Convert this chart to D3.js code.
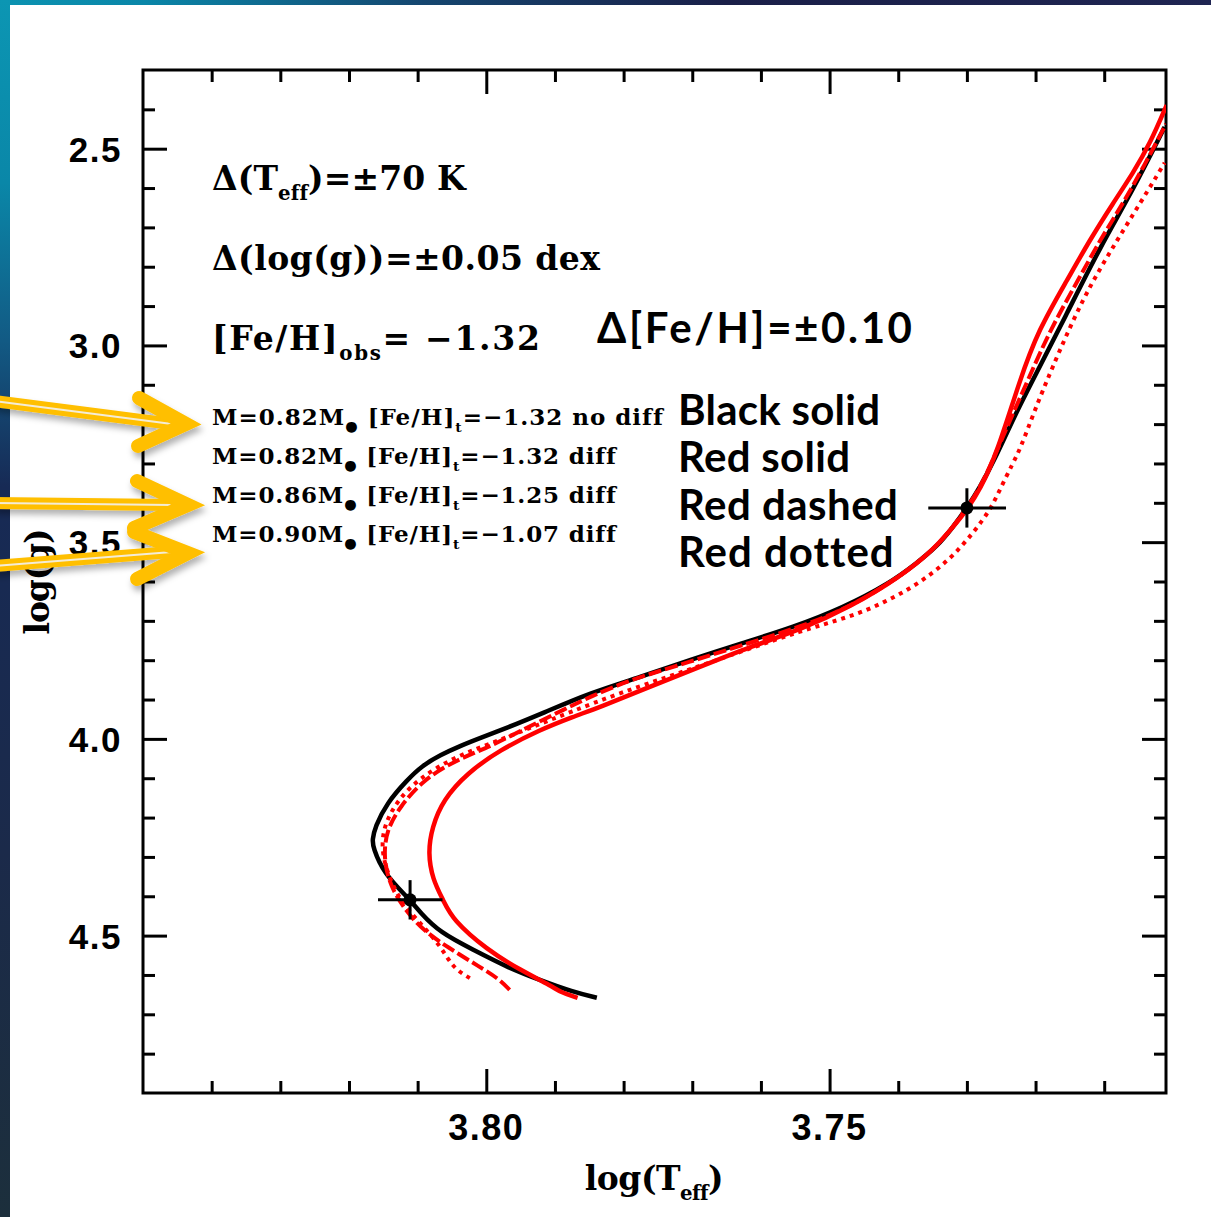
<!DOCTYPE html>
<html>
<head>
<meta charset="utf-8">
<script src="https://cdn.jsdelivr.net/npm/d3@7"></script>
<style>
  html, body { margin: 0; padding: 0; background: #fff; overflow: hidden; }
  svg { display: block; }
</style>
</head>
<body>
<svg id="fig"></svg>
<script>
// ---- Evolutionary tracks: [log(Teff), log(g)], from the ZAMS end upward ----
const blackSolid = [
  [3.7839,4.658],[3.7874,4.643],[3.7922,4.613],[3.7970,4.580],[3.8019,4.536],
  [3.8067,4.493],[3.8097,4.440],[3.8111,4.409],[3.8150,4.341],[3.8165,4.275],
  [3.8166,4.257],[3.8162,4.224],[3.8145,4.163],[3.8115,4.104],[3.8094,4.069],
  [3.8067,4.041],[3.8038,4.018],[3.8009,3.998],[3.7970,3.972],[3.7917,3.934],
  [3.7849,3.883],[3.7776,3.843],
  [3.7703,3.799],[3.7626,3.756],[3.7553,3.716],[3.7481,3.667],[3.7412,3.604],
  [3.7373,3.553],[3.7344,3.512],[3.7320,3.461],[3.7300,3.413],[3.7281,3.360],
  [3.7262,3.299],[3.7230,3.177],[3.7204,3.088],[3.7154,2.918],[3.7106,2.750],
  [3.7058,2.605],[3.7012,2.445]
];
const redSolid = [
  [3.7867,4.658],[3.7893,4.643],[3.7903,4.630],[3.7951,4.587],[3.7999,4.536],
  [3.8049,4.460],[3.8063,4.409],[3.8078,4.358],[3.8085,4.290],[3.8079,4.224],
  [3.8063,4.155],[3.8028,4.087],[3.7980,4.028],[3.7922,3.977],[3.7874,3.944],
  [3.7834,3.919],[3.7762,3.868],[3.7689,3.817],[3.7616,3.766],[3.7543,3.723],
  [3.7470,3.665],[3.7397,3.588],[3.7349,3.520],[3.7320,3.461],[3.7300,3.418],
  [3.7281,3.367],[3.7256,3.273],[3.7223,3.088],[3.7196,2.961],[3.7154,2.834],
  [3.7121,2.732],[3.7087,2.638],[3.7058,2.562],[3.7033,2.486],[3.7009,2.389]
];
const redDashed = [
  [3.7966,4.638],[3.7983,4.608],[3.8009,4.580],[3.8057,4.529],[3.8092,4.486],
  [3.8115,4.442],[3.8140,4.376],[3.8150,4.300],[3.8145,4.231],[3.8126,4.173],
  [3.8092,4.104],[3.8043,4.053],[3.7995,4.020],[3.7947,3.977],[3.7897,3.934],
  [3.7849,3.893],[3.7791,3.850],[3.7703,3.804],[3.7626,3.761],[3.7543,3.716],
  [3.7470,3.665],[3.7397,3.588],[3.7349,3.520],[3.7320,3.461],[3.7300,3.413],
  [3.7281,3.362],[3.7262,3.291],[3.7237,3.189],[3.7211,3.088],[3.7179,2.961],
  [3.7138,2.834],[3.7106,2.732],[3.7074,2.643],[3.7041,2.541],[3.7010,2.437]
];
const redDotted = [
  [3.8024,4.608],[3.8049,4.582],[3.8067,4.524],[3.8101,4.460],[3.8126,4.409],
  [3.8143,4.346],[3.8153,4.282],[3.8149,4.219],[3.8129,4.155],[3.8097,4.099],
  [3.8046,4.046],[3.7995,4.013],[3.7936,3.972],[3.7878,3.932],[3.7805,3.883],
  [3.7718,3.832],[3.7630,3.779],[3.7543,3.726],[3.7470,3.690],[3.7422,3.655],
  [3.7373,3.609],[3.7325,3.545],[3.7291,3.477],[3.7266,3.418],[3.7252,3.367],
  [3.7233,3.299],[3.7223,3.266],[3.7201,3.164],[3.7179,3.070],[3.7131,2.877],
  [3.7081,2.732],[3.7033,2.597],[3.7012,2.536]
];

// ---- Observed star positions and their uncertainties ----
const obsPoints = [[3.7300, 3.413], [3.8111, 4.409]];
const errTeffK = 70;      // K
const errLogg = 0.05;     // dex

// ---- Axes ----
const xMajorTicks = [3.80, 3.75];
const xMinorTicks = [3.84, 3.83, 3.82, 3.81, 3.79, 3.78, 3.77, 3.76, 3.74, 3.73, 3.72, 3.71];
const xTickLabels = ["3.80", "3.75"];
const yMajorTicks = [2.5, 3.0, 3.5, 4.0, 4.5];
const yMinorTicks = [2.4, 2.6, 2.7, 2.8, 2.9, 3.1, 3.2, 3.3, 3.4, 3.6, 3.7, 3.8, 3.9, 4.1, 4.2, 4.3, 4.4, 4.6, 4.7, 4.8];
const yTickLabels = ["2.5", "3.0", "3.5", "4.0", "4.5"];

// ---- Model descriptions ----
const modelMass = ["0.82", "0.82", "0.86", "0.90"];
const modelFeH = ["1.32", "1.32", "1.25", "1.07"];
const modelDiff = ["no diff", "diff", "diff", "diff"];
const lineStyleNames = ["Black solid", "Red solid", "Red dashed", "Red dotted"];

const W = 1211, H = 1217;
const plot = { left: 143, top: 70, right: 1166, bottom: 1093 };

const svg = d3.select("#fig").attr("width", W).attr("height", H);
const defs = svg.append("defs");

// slide frame gradients
const gTop = defs.append("linearGradient").attr("id", "gTop")
  .attr("x1", 0).attr("x2", 1).attr("y1", 0).attr("y2", 0);
[[0, "#0c93b1"], [0.12, "#0a86a8"], [0.35, "#15466f"], [0.6, "#1a1f48"], [1, "#1f2552"]]
  .forEach(([o, c]) => gTop.append("stop").attr("offset", o).attr("stop-color", c));
const gLeft = defs.append("linearGradient").attr("id", "gLeft")
  .attr("x1", 0).attr("x2", 0).attr("y1", 0).attr("y2", 1);
[[0, "#0c96b3"], [0.15, "#0a87a8"], [0.28, "#125a84"], [0.4, "#172a55"], [0.7, "#1b2a4a"], [1, "#1c2f3c"]]
  .forEach(([o, c]) => gLeft.append("stop").attr("offset", o).attr("stop-color", c));

const shadow = defs.append("filter").attr("id", "shadow")
  .attr("x", "-20%").attr("y", "-40%").attr("width", "150%").attr("height", "200%");
shadow.append("feDropShadow").attr("dx", 2).attr("dy", 5).attr("stdDeviation", 3)
  .attr("flood-color", "#000").attr("flood-opacity", 0.3);

defs.append("clipPath").attr("id", "plotClip").append("rect")
  .attr("x", plot.left).attr("y", plot.top)
  .attr("width", plot.right - plot.left).attr("height", plot.bottom - plot.top);

svg.append("rect").attr("width", W).attr("height", H).attr("fill", "#fff");
svg.append("rect").attr("x", 0).attr("y", 0).attr("width", W).attr("height", 5).attr("fill", "url(#gTop)");
svg.append("rect").attr("x", 0).attr("y", 0).attr("width", 10).attr("height", H).attr("fill", "url(#gLeft)");

// ---- Scales (temperature axis runs hot to cool) ----
const x = d3.scaleLinear().domain([3.85, 3.701]).range([plot.left, plot.right]);
const y = d3.scaleLinear().domain([2.3, 4.9]).range([plot.top, plot.bottom]);

// ---- Inward ticks on all four sides ----
function tickAxis(axisFn, scale, values, size, transform) {
  const g = svg.append("g").attr("transform", transform)
    .call(axisFn(scale).tickValues(values).tickSize(-size).tickFormat(""));
  g.select(".domain").remove();
  g.selectAll(".tick line").attr("stroke", "#000").attr("stroke-width", 3);
  return g;
}
tickAxis(d3.axisBottom, x, xMinorTicks, 12, `translate(0,${plot.bottom})`);
tickAxis(d3.axisBottom, x, xMajorTicks, 24, `translate(0,${plot.bottom})`);
tickAxis(d3.axisTop, x, xMinorTicks, 12, `translate(0,${plot.top})`);
tickAxis(d3.axisTop, x, xMajorTicks, 24, `translate(0,${plot.top})`);
tickAxis(d3.axisLeft, y, yMinorTicks, 12, `translate(${plot.left},0)`);
tickAxis(d3.axisLeft, y, yMajorTicks, 24, `translate(${plot.left},0)`);
tickAxis(d3.axisRight, y, yMinorTicks, 12, `translate(${plot.right},0)`);
tickAxis(d3.axisRight, y, yMajorTicks, 24, `translate(${plot.right},0)`);

svg.append("rect").attr("x", plot.left).attr("y", plot.top)
  .attr("width", plot.right - plot.left).attr("height", plot.bottom - plot.top)
  .attr("fill", "none").attr("stroke", "#000").attr("stroke-width", 3);

// tick labels
const tickFont = "'Liberation Sans', Arial, sans-serif";
svg.append("g").selectAll("text").data(xMajorTicks).join("text")
  .attr("x", d => x(d)).attr("y", plot.bottom + 47)
  .attr("text-anchor", "middle").attr("font-family", tickFont).attr("font-weight", "bold")
  .attr("font-size", 36).attr("letter-spacing", 1.5)
  .text((d, i) => xTickLabels[i]);
svg.append("g").selectAll("text").data(yMajorTicks).join("text")
  .attr("x", 122).attr("y", d => y(d) + 13)
  .attr("text-anchor", "end").attr("font-family", tickFont).attr("font-weight", "bold")
  .attr("font-size", 35).attr("letter-spacing", 1.5)
  .text((d, i) => yTickLabels[i]);

// ---- Tracks ----
const line = d3.line().x(d => x(d[0])).y(d => y(d[1])).curve(d3.curveBasis);
const tracks = svg.append("g").attr("clip-path", "url(#plotClip)")
  .attr("fill", "none").attr("stroke-linejoin", "round");
tracks.append("path").datum(blackSolid).attr("d", line)
  .attr("stroke", "#000").attr("stroke-width", 4.5);
tracks.append("path").datum(redDotted).attr("d", line)
  .attr("stroke", "#ff0000").attr("stroke-width", 4).attr("stroke-dasharray", "4,5");
tracks.append("path").datum(redDashed).attr("d", line)
  .attr("stroke", "#ff0000").attr("stroke-width", 4).attr("stroke-dasharray", "13,4");
tracks.append("path").datum(redSolid).attr("d", line)
  .attr("stroke", "#ff0000").attr("stroke-width", 4.5);

// ---- Observed points with error crosses ----
const obs = svg.append("g").attr("stroke", "#000").attr("stroke-width", 3);
obsPoints.forEach(([lt, lg]) => {
  const teff = Math.pow(10, lt);
  obs.append("line")
    .attr("x1", x(Math.log10(teff + errTeffK))).attr("x2", x(Math.log10(teff - errTeffK)))
    .attr("y1", y(lg)).attr("y2", y(lg));
  obs.append("line")
    .attr("x1", x(lt)).attr("x2", x(lt))
    .attr("y1", y(lg - errLogg)).attr("y2", y(lg + errLogg));
  obs.append("circle").attr("cx", x(lt)).attr("cy", y(lg)).attr("r", 6.5)
    .attr("fill", "#000").attr("stroke", "none");
});

// ---- Text helpers ----
function richText(parent, px, py, parts, font) {
  const t = parent.append("text").attr("x", px).attr("y", py)
    .attr("font-family", font.family).attr("font-weight", font.weight || "bold")
    .attr("font-size", font.size).attr("fill", "#000");
  let shift = 0;
  parts.forEach(p => {
    const target = p.sub ? font.size * (p.drop || 0.3) : 0;
    const span = t.append("tspan").text(p.text).attr("dy", target - shift);
    if (p.sub) span.attr("font-size", font.size * (p.scale || 0.6));
    shift = target;
  });
  return t;
}
function fitWidth(t, width) {
  const node = t.node();
  const n = node.getNumberOfChars();
  const w = node.getComputedTextLength();
  if (n > 1) t.attr("letter-spacing", ((width - w) / (n - 1)).toFixed(2));
}

const serif = "'DejaVu Serif', 'Liberation Serif', serif";
const rounded = "Lato, 'DejaVu Sans', sans-serif";
const notes = svg.append("g");

fitWidth(richText(notes, 212, 190,
  [{ text: "Δ(T" }, { text: "eff", sub: true }, { text: ")=±70 K" }],
  { family: serif, size: 33 }), 253);
fitWidth(richText(notes, 212, 270,
  [{ text: "Δ(log(g))=±0.05 dex" }],
  { family: serif, size: 33 }), 388);
fitWidth(richText(notes, 212, 350,
  [{ text: "[Fe/H]" }, { text: "obs", sub: true }, { text: "= −1.32" }],
  { family: serif, size: 33 }), 328);
fitWidth(richText(notes, 597, 343,
  [{ text: "Δ[Fe/H]=±0.10" }],
  { family: rounded, size: 42 }), 315);

// model list
const listBase = [425, 464, 503, 542];
const listWidth = [450, 403, 403, 403];
modelMass.forEach((m, i) => {
  fitWidth(richText(notes, 212, listBase[i], [
    { text: `M=${m}M` },
    { text: "●", sub: true, drop: 0.25, scale: 0.62 },
    { text: " [Fe/H]" },
    { text: "t", sub: true, drop: 0.3, scale: 0.6 },
    { text: `=−${modelFeH[i]} ${modelDiff[i]}` }
  ], { family: serif, size: 23 }), listWidth[i]);
});

// line style key
const keyBase = [425, 472, 520, 567];
const keyWidth = [202, 172, 220, 214];
lineStyleNames.forEach((s, i) => {
  fitWidth(richText(notes, 678, keyBase[i], [{ text: s }],
    { family: rounded, size: 42 }), keyWidth[i]);
});

// axis titles
const xt = richText(svg, 654, 1190,
  [{ text: "log(T" }, { text: "eff", sub: true }, { text: ")" }],
  { family: serif, size: 33 });
xt.attr("text-anchor", "middle");
fitWidth(xt, 138);

const ytG = svg.append("g").attr("transform", "translate(49,582) rotate(-90)");
const yt = richText(ytG, 0, 0, [{ text: "log(g)" }], { family: serif, size: 33 });
yt.attr("text-anchor", "middle");
fitWidth(yt, 106);

// ---- Pointer arrows toward the model list ----
const arrows = [
  { shaft: [[-6, 401], [172, 424]], head: [[139, 398], [186, 424], [138, 446]] },
  { shaft: [[-6, 503], [172, 505]], head: [[137, 481], [188, 505], [134, 528]] },
  { shaft: [[-6, 566], [172, 552]], head: [[134, 532], [188, 553], [137, 579]] }
];
const arrowG = svg.append("g").attr("filter", "url(#shadow)").attr("fill", "none");
arrows.forEach(a => {
  const g = arrowG.append("g");
  g.append("path").attr("d", d3.line()(a.shaft))
    .attr("stroke", "#ffbf00").attr("stroke-width", 12);
  g.append("path").attr("d", d3.line()(a.shaft))
    .attr("stroke", "#f4ecd6").attr("stroke-width", 2);
  g.append("path").attr("d", d3.line()(a.head))
    .attr("stroke", "#ffbf00").attr("stroke-width", 14)
    .attr("stroke-linecap", "round").attr("stroke-linejoin", "miter");
});
</script>
</body>
</html>
